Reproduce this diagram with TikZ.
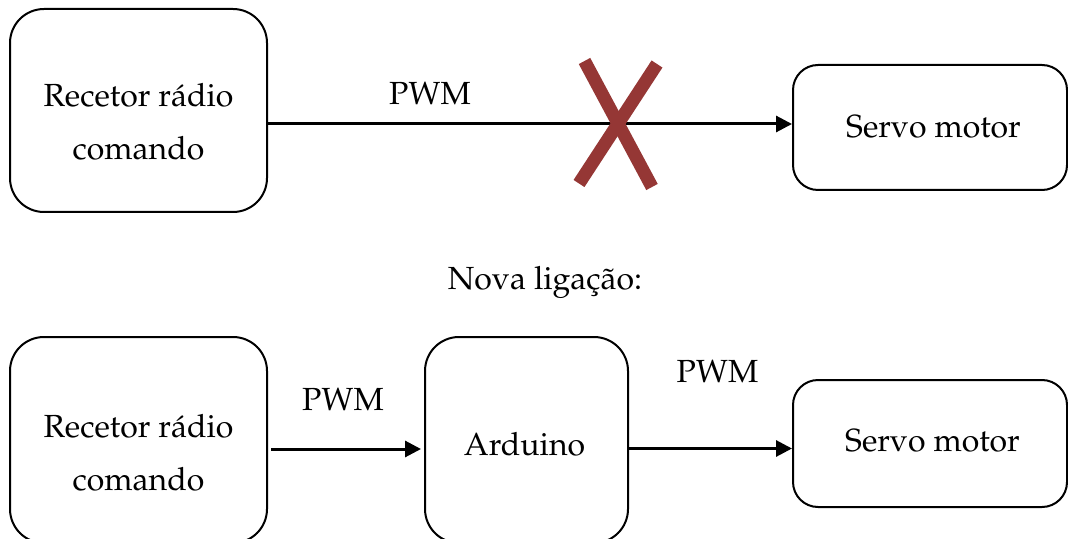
\documentclass[tikz,border=0pt]{standalone}
\usepackage[T1]{fontenc}
\usepackage{mathpazo}
\usepackage{xcolor}
\usepackage{tikz}
\usetikzlibrary{arrows.meta}

\definecolor{crossred}{RGB}{149,55,53}

\tikzset{
	box/.style={draw,line width=1pt,rounded corners=#1,inner sep=0pt},
	box/.default=17pt,
	txt/.style={inner sep=0pt,font=\fontsize{16pt}{26.5pt}\selectfont},
	sig/.style={line width=1.5pt,-{Triangle[length=8pt,width=8pt]}},
	crossmark/.style={draw=crossred,line width=6.5pt}
}

\begin{document}
\begin{tikzpicture}[x=0.5pt,y=-0.5pt]
	\useasboundingbox (0,0) rectangle (1068,539);
	\clip (0,0) rectangle (1068,539);

	% ligacao antiga
	\node[box,minimum width=128.5pt,minimum height=101.5pt](rc1) at (138.5,110.5){};
	\node[box=12.5pt,minimum width=137pt,minimum height=62.5pt](sm1) at (930,127.5){};
	\node[txt,align=center,anchor=base](rc1txt) at (138.5,160){Recetor r\'adio\\comando};
	\node[txt,anchor=base](sm1txt) at (933.5,137.3){Servo motor};

	\draw[sig] ([yshift=-6.75pt]rc1.east) -- ([yshift=-6.75pt]rc1.east -| sm1.west);
	\node[txt,anchor=base](pwm1) at (430,104.3){PWM};

	\draw[crossmark] (584.5,61) -- (652,187);
	\draw[crossmark] (657,64) -- (579,183.5);

	\node[txt,anchor=base](nova) at (545,289.3){Nova liga\c{c}\~ao:};

	% ligacao nova
	\node[box,minimum width=128.5pt,minimum height=103pt](rc2) at (138.5,440){};
	\node[box,minimum width=101.5pt,minimum height=103pt](ard) at (526.5,440){};
	\node[box=12.5pt,minimum width=137pt,minimum height=63.5pt](sm2) at (930,443.5){};
	\node[txt,align=center,anchor=base](rc2txt) at (138.5,490.7){Recetor r\'adio\\comando};
	\node[txt,anchor=base](ardtxt) at (524.5,455){Arduino};
	\node[txt,anchor=base](sm2txt) at (932.5,451.7){Servo motor};

	\draw[sig,shorten <=1.5pt,shorten >=1.5pt] ([yshift=-4.5pt]rc2.east) -- ([yshift=-4.5pt]rc2.east -| ard.west);
	\node[txt,anchor=base](pwm2) at (343,410){PWM};
	\draw[sig] ([yshift=-4.25pt]ard.east) -- ([yshift=-4.25pt]ard.east -| sm2.west);
	\node[txt,anchor=base](pwm3) at (717.5,382.3){PWM};
\end{tikzpicture}
\end{document}
